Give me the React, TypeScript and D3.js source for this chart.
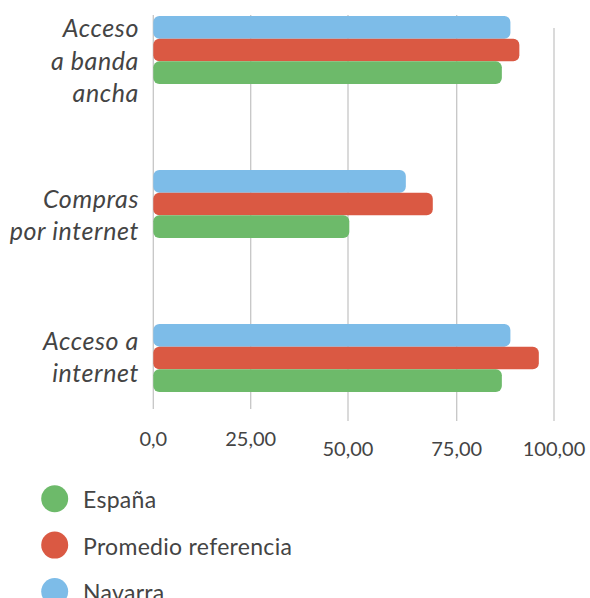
import * as React from 'react'
import * as d3 from 'd3'

const categories = ['Acceso a banda ancha', 'Compras por internet', 'Acceso a internet']
const categoryLines = [['Acceso', 'a banda', 'ancha'], ['Compras', 'por internet'], ['Acceso a', 'internet']]
const series = ['Navarra', 'Promedio referencia', 'España']
const navarra = [88.8, 63.3, 88.8]
const promedio = [91.1, 69.5, 96.1]
const espana = [86.6, 50.3, 86.6]
const tickValues = [0, 25, 50, 75, 100]
const tickLabels = ['0,0', '25,00', '50,00', '75,00', '100,00']
const legendOrder = ['España', 'Promedio referencia', 'Navarra']

const colors: Record<string, string> = {
  'Navarra': '#7dbce8',
  'Promedio referencia': '#da5943',
  'España': '#6dba6a'
}

const W = 590
const H = 598
const textColor = '#444444'
const gridColor = '#c6c6c6'
// first baseline of each label block, relative to band top
const labelOffset = [21, 38, 26]

export default function App() {
  const ref = React.useRef<SVGSVGElement>(null)

  React.useEffect(() => {
    const svg = d3.select(ref.current)
    svg.selectAll('*').remove()

    const values: Record<string, number[]> = {
      'Navarra': navarra,
      'Promedio referencia': promedio,
      'España': espana
    }

    const x = d3.scaleLinear()
      .domain(tickValues)
      .range([153.3, 250.7, 348, 456.7, 554])

    const y = d3.scaleBand<string>()
      .domain(categories)
      .range([16, 392])
      .paddingInner(0.558)
      .paddingOuter(0)
      .align(0)

    const ys = d3.scaleBand<string>()
      .domain(series)
      .range([0, y.bandwidth()])

    // grid
    const grid = svg.append('g').attr('class', 'grid')
    grid.selectAll('line')
      .data(tickValues)
      .enter().append('line')
      .attr('x1', d => x(d))
      .attr('x2', d => x(d))
      .attr('y1', d => d === 100 ? 28 : 15)
      .attr('y2', (d, i) => i < 2 ? 409 : 421)
      .attr('stroke', gridColor)
      .attr('stroke-width', 1.3)

    grid.selectAll('text')
      .data(tickValues)
      .enter().append('text')
      .attr('x', d => x(d))
      .attr('y', (d, i) => i < 2 ? 446 : 456)
      .attr('text-anchor', 'middle')
      .attr('font-family', 'Lato')
      .attr('font-size', 20)
      .attr('fill', textColor)
      .text((d, i) => tickLabels[i])

    // bars
    const groups = svg.append('g').selectAll('g')
      .data(categories)
      .enter().append('g')
      .attr('transform', d => `translate(0, ${y(d)})`)

    groups.selectAll('rect')
      .data((c, ci) => series.map(s => ({ s, v: values[s][ci] })))
      .enter().append('rect')
      .attr('x', x(0))
      .attr('y', d => ys(d.s) as number)
      .attr('width', d => x(d.v) - x(0))
      .attr('height', ys.bandwidth())
      .attr('rx', 6)
      .attr('fill', d => colors[d.s])

    // category labels
    groups.append('text')
      .attr('font-family', 'Lato')
      .attr('font-style', 'italic')
      .attr('font-size', 25)
      .attr('letter-spacing', 0.6)
      .attr('fill', textColor)
      .attr('text-anchor', 'end')
      .each(function (c, ci) {
        d3.select(this).selectAll('tspan')
          .data(categoryLines[ci])
          .enter().append('tspan')
          .attr('x', 139)
          .attr('y', (d, i) => labelOffset[ci] + i * 32.5)
          .text(d => d)
      })

    // legend
    const legend = svg.append('g').selectAll('g')
      .data(legendOrder)
      .enter().append('g')
      .attr('transform', (d, i) => `translate(0, ${498.7 + i * 46.4})`)

    legend.append('circle')
      .attr('cx', 54.7)
      .attr('cy', 0)
      .attr('r', 13.5)
      .attr('fill', d => colors[d])

    legend.append('text')
      .attr('x', 83)
      .attr('y', 9.6)
      .attr('font-family', 'Lato')
      .attr('font-size', 23)
      .attr('letter-spacing', 0.3)
      .attr('fill', textColor)
      .text(d => d)
  }, [])

  return (
    <svg ref={ref} width={W} height={H}
      style={{ position: 'absolute', left: 0, top: 0, display: 'block', background: '#fff' }} />
  )
}
